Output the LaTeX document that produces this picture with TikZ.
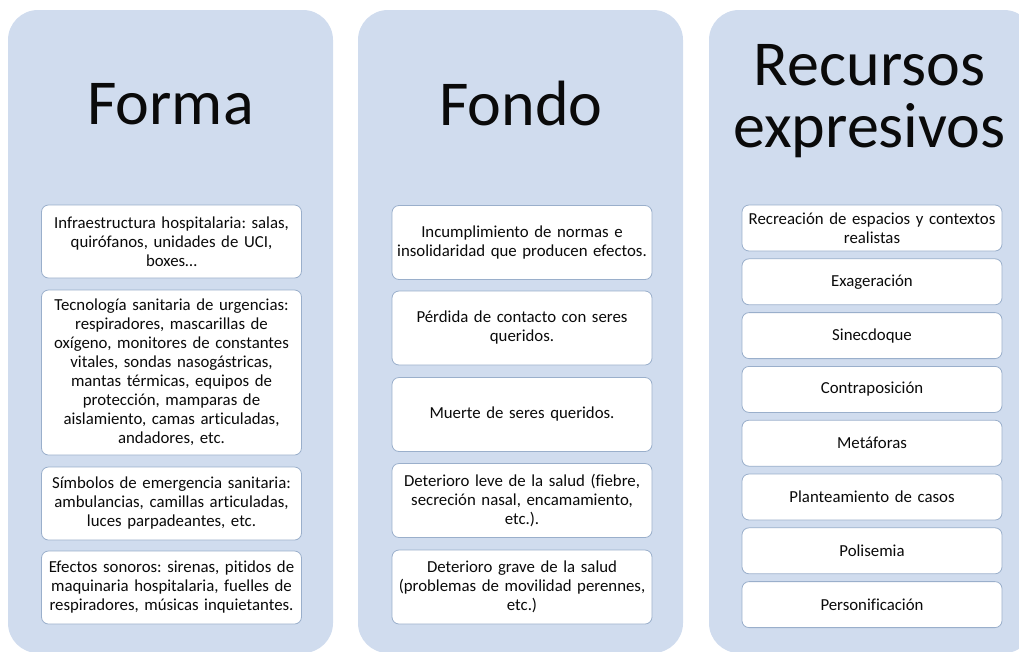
\documentclass[tikz,border=0pt]{standalone}
\usepackage{fontspec}
\setmainfont{Carlito}[Ligatures=NoCommon]
\usepackage{tikz}
\usetikzlibrary{positioning}
\usepackage{xcolor}
\definecolor{panelColor}{HTML}{D0DCEE}
\definecolor{boxLineColor}{HTML}{9AAFCB}
\definecolor{textColor}{HTML}{0A0A0A}
\frenchspacing
\tikzset{
  panel/.style = {fill=panelColor, draw=none, rounded corners=30pt},% columna de fondo
  titleNode/.style = {font=\fontsize{64}{62}\selectfont, text=textColor, align=center, inner sep=0pt},% titulo de columna
  itemNode/.style = {draw=boxLineColor, fill=white, rounded corners=7pt, line width=0.8pt,
    minimum width=260pt, text width=258pt, align=center, inner sep=0pt,
    font=\fontsize{16.8}{19}\selectfont, text=textColor},% caja de texto
  shortItem/.style = {itemNode, minimum height=46pt},
}

\begin{document}
\begin{tikzpicture}[x=1pt,y=-1pt]
\useasboundingbox (0,0) rectangle (1019,651);
\clip (0,0) rectangle (1019,651);
% columnas
\fill[panel] (8,10) rectangle (333,653);
\fill[panel] (358,10) rectangle (683,653);
\fill[panel] (709,10) rectangle (1034,653);
% titulos
\node [titleNode, anchor=base] (forma) at (170.5,124) {Forma};
\node [titleNode, anchor=base] (fondo) at (521,125) {Fondo};
\node [titleNode, anchor=base] (recursos) at (869.5,147) {Recursos\\expresivos};
% Forma
\node [itemNode, minimum height=73pt] (f1) at (171.5,241.5) {Infraestructura hospitalaria: salas,\\quirófanos, unidades de UCI,\\boxes\ldots};
\node [itemNode, minimum height=165pt] (f2) at (171.5,372.5) {Tecnología sanitaria de urgencias:\\respiradores, mascarillas de\\oxígeno, monitores de constantes\\vitales, sondas nasogástricas,\\mantas térmicas, equipos de\\protección, mamparas de\\aislamiento, camas articuladas,\\andadores, etc.};
\node [itemNode, minimum height=73pt] (f3) at (171.5,503.5) {Símbolos de emergencia sanitaria:\\ambulancias, camillas articuladas,\\luces parpadeantes, etc.};
\node [itemNode, minimum height=73pt] (f4) at (171.5,587.5) {Efectos sonoros: sirenas, pitidos de\\maquinaria hospitalaria, fuelles de\\respiradores, músicas inquietantes.};
% Fondo
\node [itemNode, minimum height=74pt] (d1) at (522,242.5) {Incumplimiento de normas e\\insolidaridad que producen efectos.};
\node [itemNode, minimum height=74pt] (d2) at (522,328) {Pérdida de contacto con seres\\queridos.};
\node [itemNode, minimum height=74pt] (d3) at (522,414.5) {Muerte de seres queridos.};
\node [itemNode, minimum height=74pt] (d4) at (522,500.5) {Deterioro leve de la salud (fiebre,\\secreción nasal, encamamiento,\\etc.).};
\node [itemNode, minimum height=74pt] (d5) at (522,587) {Deterioro grave de la salud\\(problemas de movilidad perennes,\\etc.)};
% Recursos expresivos
\node [shortItem] (r1) at (872,228) {Recreación de espacios y contextos\\realistas};
\node [shortItem, below=7pt of r1] (r2) {Exageración};
\node [shortItem, below=7pt of r2] (r3) {Sinecdoque};
\node [shortItem, below=7pt of r3] (r4) {Contraposición};
\node [shortItem, below=7pt of r4] (r5) {Metáforas};
\node [shortItem, below=7pt of r5] (r6) {Planteamiento de casos};
\node [shortItem, below=7pt of r6] (r7) {Polisemia};
\node [shortItem, below=7pt of r7] (r8) {Personificación};
\end{tikzpicture}
\end{document}
